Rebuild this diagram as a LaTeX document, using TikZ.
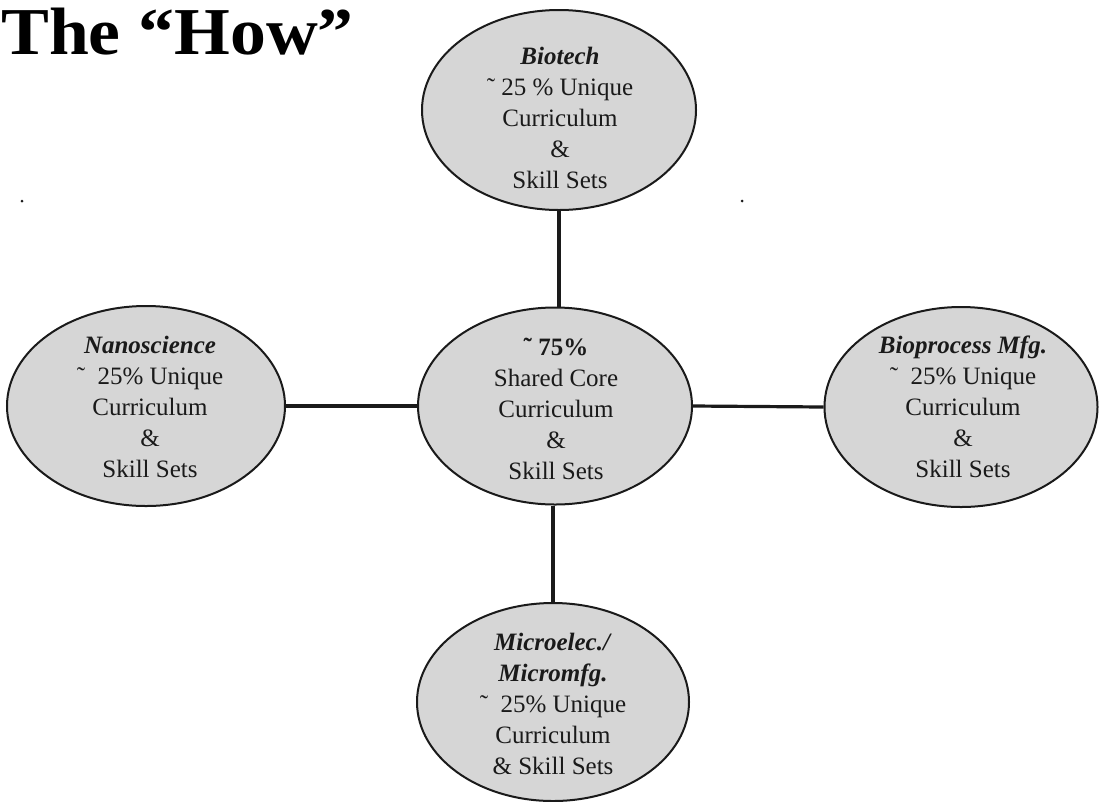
\documentclass[tikz,border=0pt]{standalone}
\usepackage{fontspec}
\setmainfont{Liberation Serif}
\usetikzlibrary{shapes.geometric}
\definecolor{ovalfill}{HTML}{D6D6D6}
\definecolor{ink}{HTML}{1A1A1A}
\tikzset{
  oval/.style={ellipse, draw=ink, line width=2pt, fill=ovalfill, inner sep=0pt},
  lbl/.style={anchor=north, align=center, inner sep=0pt, text=ink, font=\fontsize{25}{31}\selectfont},
  link/.style={draw=ink, line width=3.2pt},
  speck/.style={circle, fill=ink, inner sep=0pt, minimum size=3pt}
}
\newcommand{\tl}{\char"02DC}
\begin{document}
\begin{tikzpicture}[x=1pt,y=-1pt]
\useasboundingbox (0,0) rectangle (1099,801);
\fill[white] (0,0) rectangle (1099,801);
% title
\node[anchor=base west, inner sep=0pt, text=black, font=\fontsize{67}{76}\selectfont\bfseries\addfontfeature{FakeStretch=1.07}] (title) at (1,54) {The “How”};
% specks
\node[speck] (s1) at (22,201) {};
\node[speck] (s2) at (742,201) {};
% ovals
\node[oval, minimum width=274pt, minimum height=200pt] (bio) at (559,110) {};
\node[oval, minimum width=278pt, minimum height=200pt] (nano) at (146,406) {};
\node[oval, minimum width=274pt, minimum height=197pt] (core) at (555,406) {};
\node[oval, minimum width=273pt, minimum height=200pt] (proc) at (961,407) {};
\node[oval, minimum width=272pt, minimum height=198pt] (micro) at (553,702) {};
% connectors
\draw[link] (bio.south) -- (core.north -| bio.south);
\draw[link] (nano.east) -- (core.west);
\draw[link] (core.east) -- (proc.west);
\draw[link] (core.south -| micro.north) -- (micro.north);
% texts
\node[lbl] (biot) at (560,47) {\textbf{\textit{Biotech}}\\ \tl\ 25 \% Unique\\ Curriculum\\ \&\\ Skill Sets};
\node[lbl] (coret) at (556,338) {\textbf{\tl\ 75\%}\\ Shared Core\\ Curriculum\\ \&\\ Skill Sets};
\node[lbl] (nanot) at (150,336) {\textbf{\textit{Nanoscience}}\\ \tl\ \ 25\% Unique\\ Curriculum\\ \&\\ Skill Sets};
\node[lbl] (proct) at (963,336) {\textbf{\textit{Bioprocess Mfg.}}\\ \tl\ \ 25\% Unique\\ Curriculum\\ \&\\ Skill Sets};
\node[lbl] (microt) at (553,633) {\textbf{\textit{Microelec./}}\\ \textbf{\textit{Micromfg.}}\\ \tl\ \ 25\% Unique\\ Curriculum\\ \& Skill Sets};
\end{tikzpicture}
\end{document}
